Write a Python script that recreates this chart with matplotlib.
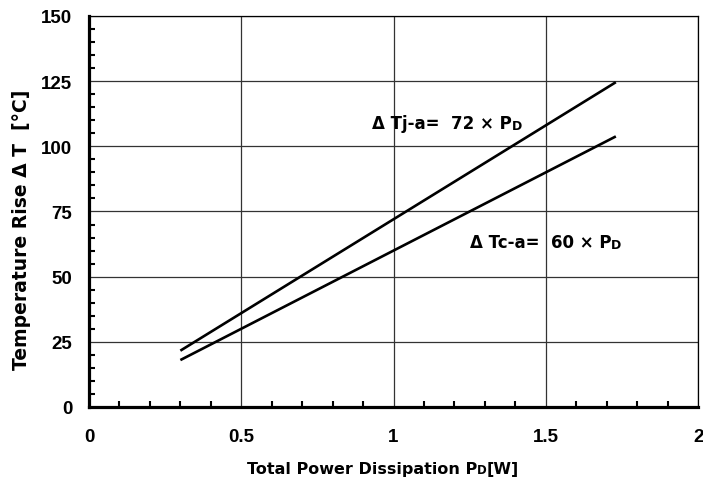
import numpy as np
import matplotlib
matplotlib.use("Agg")
import matplotlib.pyplot as plt
from matplotlib.ticker import MultipleLocator

# data
pd_w = [0.3, 1.73]
dt_ja = [21.6, 124.6]
dt_ca = [18.0, 103.8]
x_ticks = [0, 0.5, 1, 1.5, 2]
x_tick_labels = ["0", "0.5", "1", "1.5", "2"]
y_ticks = [0, 25, 50, 75, 100, 125, 150]

plt.rcParams['font.family'] = ['Liberation Sans', 'DejaVu Sans']
plt.rcParams['font.weight'] = 'bold'
LABEL_FONT = ['DejaVu Sans']


def chain_text(ax, x, y, parts, transform, **kw):
    """draw text pieces one after another; each piece is (string, size)"""
    s, size = parts[0]
    t = ax.text(x, y, s, transform=transform, fontsize=size, family=LABEL_FONT,
                fontweight='bold', va='baseline', ha='left', **kw)
    for s, size in parts[1:]:
        t = ax.annotate(s, xy=(1, 0), xycoords=t, fontsize=size,
                        family=LABEL_FONT, fontweight='bold',
                        va='bottom', ha='left')
    return t


fig = plt.figure(figsize=(7.03, 4.85), dpi=100)
ax = fig.add_axes([0.1266, 0.1588, 0.8664, 0.8062])

ax.plot(pd_w, dt_ja, color='black', linewidth=1.9, solid_capstyle='butt')
ax.plot(pd_w, dt_ca, color='black', linewidth=1.9, solid_capstyle='butt')

ax.set_xlim(0, 2)
ax.set_ylim(0, 150)
ax.set_xticks(x_ticks)
ax.set_xticklabels(x_tick_labels)
ax.set_yticks(y_ticks)
ax.xaxis.set_minor_locator(MultipleLocator(0.1))
ax.yaxis.set_minor_locator(MultipleLocator(5))
ax.tick_params(which='major', length=0, labelsize=13.5)
ax.tick_params(axis='x', which='major', pad=15)
ax.tick_params(axis='y', which='major', pad=12)
ax.tick_params(which='minor', direction='in', length=4, width=1.5,
               color='black')
ax.grid(True, which='major', color='#333333', linewidth=0.9)

ax.spines['left'].set_linewidth(2.3)
ax.spines['bottom'].set_linewidth(2.3)
ax.spines['top'].set_linewidth(0.9)
ax.spines['right'].set_linewidth(0.9)
for sp in ax.spines.values():
    sp.set_color('black')

fig.text(0.031, 0.526, "Temperature Rise Δ T  [°C]", rotation=90,
         fontsize=13.5, family=LABEL_FONT, fontweight='bold',
         ha='center', va='center')

# x label with the small "D" of P_D
chain_text(ax, 0.259, -0.168, [("Total Power Dissipation P", 11.5),
                               ("D", 8.5), ("[W]", 11.5)], ax.transAxes)

chain_text(ax, 0.93, 107.0, [("Δ Tj-a=  72 × P", 12), ("D", 9)], ax.transData)
chain_text(ax, 1.25, 61.5, [("Δ Tc-a=  60 × P", 12), ("D", 9)], ax.transData)

fig.savefig("out.png", dpi=100)
